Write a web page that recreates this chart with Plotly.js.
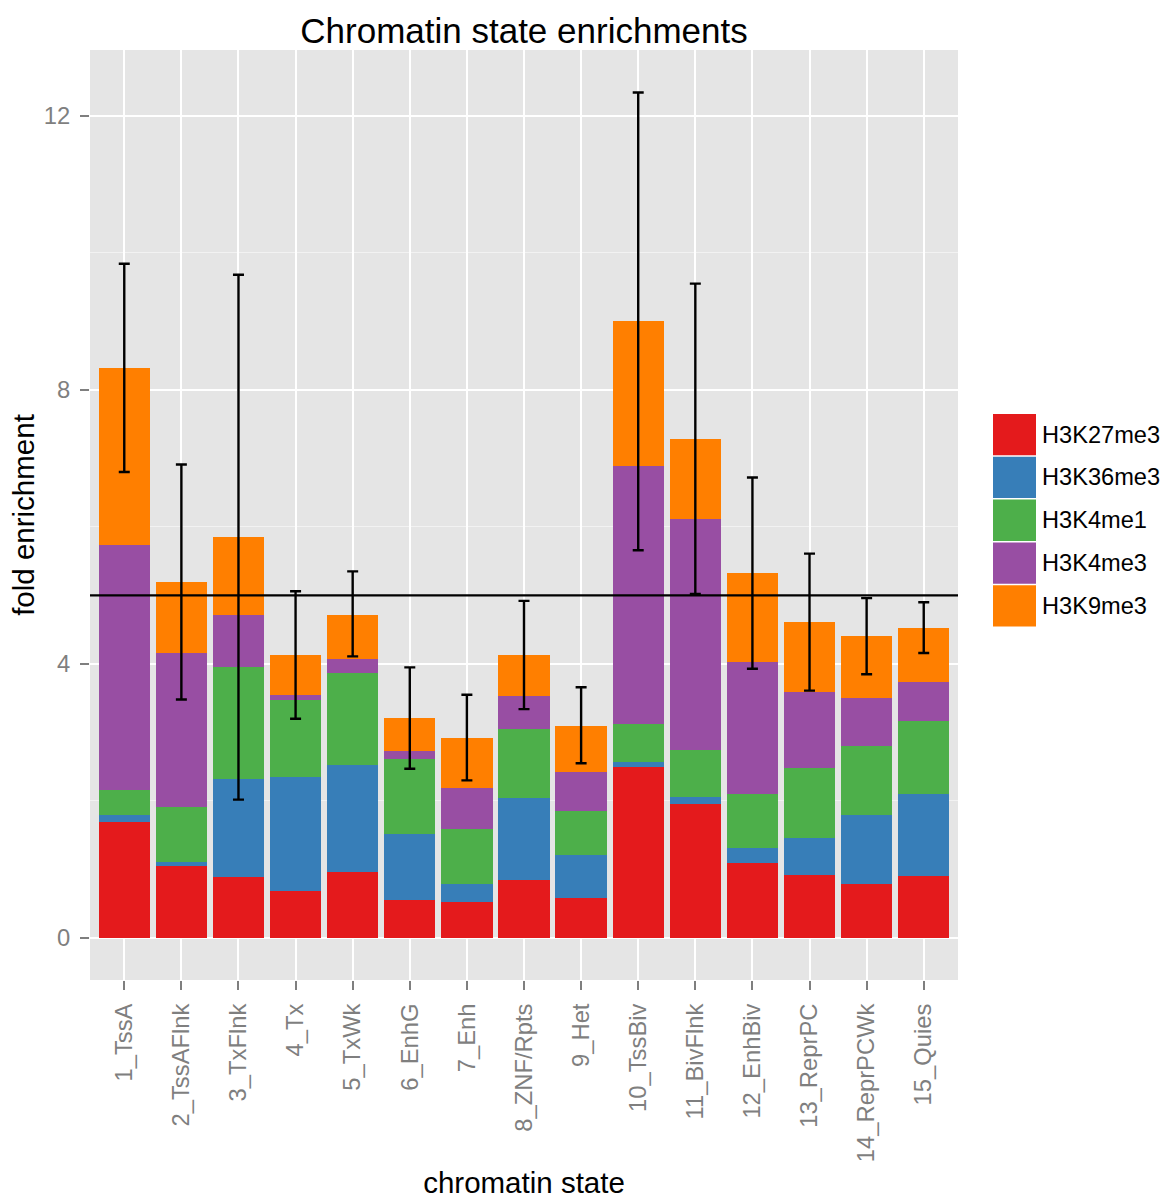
<!DOCTYPE html>
<html>
<head>
<meta charset="utf-8">
<script src="https://cdn.plot.ly/plotly-3.0.1.min.js"></script>
<style>
  html, body { margin: 0; padding: 0; background: #ffffff; }
  #chart { width: 1168px; height: 1199px; }
</style>
</head>
<body>
<div id="chart"></div>
<script>
// Chromatin states (x categories)
const states = ['1_TssA', '2_TssAFlnk', '3_TxFlnk', '4_Tx', '5_TxWk', '6_EnhG', '7_Enh',
  '8_ZNF/Rpts', '9_Het', '10_TssBiv', '11_BivFlnk', '12_EnhBiv', '13_ReprPC',
  '14_ReprPCWk', '15_Quies'];

// Fold enrichment contributed by each histone mark (stacked, bottom to top)
const H3K27me3 = [1.70, 1.05, 0.89, 0.68, 0.97, 0.56, 0.53, 0.85, 0.59, 2.50, 1.96, 1.09, 0.92, 0.79, 0.91];
const H3K36me3 = [0.10, 0.06, 1.43, 1.67, 1.55, 0.96, 0.26, 1.19, 0.62, 0.07, 0.10, 0.22, 0.54, 1.01, 1.19];
const H3K4me1  = [0.36, 0.80, 1.64, 1.12, 1.35, 1.09, 0.80, 1.01, 0.64, 0.55, 0.68, 0.79, 1.02, 1.00, 1.07];
const H3K4me3  = [3.58, 2.25, 0.76, 0.08, 0.20, 0.12, 0.60, 0.48, 0.57, 3.77, 3.38, 1.93, 1.11, 0.70, 0.57];
const H3K9me3  = [2.58, 1.04, 1.13, 0.58, 0.65, 0.48, 0.73, 0.60, 0.67, 2.12, 1.16, 1.30, 1.02, 0.91, 0.79];

// Error bar bounds around the total enrichment
const errLow  = [6.80, 3.48, 2.02, 3.20, 4.11, 2.47, 2.30, 3.34, 2.55, 5.66, 5.02, 3.93, 3.61, 3.85, 4.16];
const errHigh = [9.84, 6.91, 9.68, 5.06, 5.35, 3.95, 3.55, 4.92, 3.66, 12.34, 9.55, 6.72, 5.61, 4.96, 4.90];

// Reference level drawn across the panel
const referenceLevel = 5;

const markNames = ['H3K27me3', 'H3K36me3', 'H3K4me1', 'H3K4me3', 'H3K9me3'];
const markValues = [H3K27me3, H3K36me3, H3K4me1, H3K4me3, H3K9me3];
const markColors = ['#E41A1C', '#377EB8', '#4DAF4A', '#984EA3', '#FF7F00'];

const totals = states.map((_, i) => markValues.reduce((s, arr) => s + arr[i], 0));

const traces = markNames.map((name, k) => ({
  type: 'bar',
  name: name,
  x: states,
  y: markValues[k],
  marker: { color: markColors[k], line: { width: 0 } },
  showlegend: false,
  hoverinfo: 'skip'
}));

traces.push({
  type: 'scatter',
  mode: 'markers',
  x: states,
  y: totals,
  marker: { size: 0, opacity: 0 },
  showlegend: false,
  hoverinfo: 'skip',
  error_y: {
    type: 'data',
    symmetric: false,
    array: totals.map((t, i) => errHigh[i] - t),
    arrayminus: totals.map((t, i) => t - errLow[i]),
    color: '#000000',
    thickness: 2.4,
    width: 5.5
  }
});

// Page geometry
const W = 1168, H = 1199;
const M = { l: 90, r: 210, t: 50, b: 219 };
const plotW = W - M.l - M.r, plotH = H - M.t - M.b;
const px2paperX = px => (px - M.l) / plotW;
const px2paperY = py => (H - M.b - py) / plotH;

const font = 'Liberation Sans, Arial, Helvetica, sans-serif';
const greyText = '#7F7F7F';

// Legend: large keys stacked vertically to the right of the panel
const shapes = [{
  type: 'line', xref: 'paper', yref: 'y',
  x0: 0, x1: 1, y0: referenceLevel, y1: referenceLevel,
  line: { color: '#000000', width: 2.2 }
}];
const annotations = [];
const keyLeft = 993, keyRight = 1036, keyTop = 414, keyPitch = 42.8, keyH = 41.3;
markNames.forEach((name, k) => {
  const top = keyTop + k * keyPitch;
  shapes.push({
    type: 'rect', xref: 'paper', yref: 'paper',
    x0: px2paperX(keyLeft), x1: px2paperX(keyRight),
    y0: px2paperY(top + keyH), y1: px2paperY(top),
    fillcolor: markColors[k], line: { width: 0 }
  });
  annotations.push({
    xref: 'paper', yref: 'paper',
    x: px2paperX(1040), y: px2paperY(top + keyH / 2),
    xanchor: 'left', yanchor: 'middle',
    text: name, showarrow: false,
    font: { family: font, size: 23.6, color: '#000000' }
  });
});

const layout = {
  width: W, height: H,
  margin: M,
  paper_bgcolor: '#ffffff',
  plot_bgcolor: '#E5E5E5',
  barmode: 'stack',
  bargap: 0.1,
  showlegend: false,
  font: { family: font },
  title: {
    text: 'Chromatin state enrichments',
    font: { family: font, size: 35, color: '#000000' },
    x: 0.5, xref: 'paper', xanchor: 'center',
    y: 1 - 31 / H, yref: 'container', yanchor: 'middle'
  },
  xaxis: {
    type: 'category',
    range: [-0.6, 14.6],
    showgrid: true, gridcolor: '#ffffff', gridwidth: 2,
    zeroline: false, showline: false,
    ticks: 'outside', ticklen: 9, tickwidth: 2, tickcolor: greyText,
    tickangle: -90,
    ticklabelstandoff: 4,
    tickfont: { family: font, size: 23.8, color: greyText },
    title: { text: 'chromatin state', font: { family: font, size: 29.5, color: '#000000' }, standoff: 13 },
    automargin: false
  },
  yaxis: {
    range: [-0.613, 12.96],
    tickmode: 'array', tickvals: [0, 4, 8, 12], ticktext: ['0', '4', '8', '12'],
    showgrid: true, gridcolor: '#ffffff', gridwidth: 2,
    minor: { dtick: 2, tick0: 0, showgrid: true, gridcolor: '#F2F2F2', gridwidth: 1, ticks: '' },
    zeroline: false, showline: false,
    ticks: 'outside', ticklen: 9, tickwidth: 2, tickcolor: greyText,
    ticklabelstandoff: 5,
    tickfont: { family: font, size: 23.8, color: greyText },
    title: { text: 'fold enrichment', font: { family: font, size: 29.5, color: '#000000' }, standoff: 0 },
    automargin: false
  },
  shapes: shapes,
  annotations: annotations
};

Plotly.newPlot('chart', traces, layout, { staticPlot: true, displayModeBar: false });
</script>
</body>
</html>
